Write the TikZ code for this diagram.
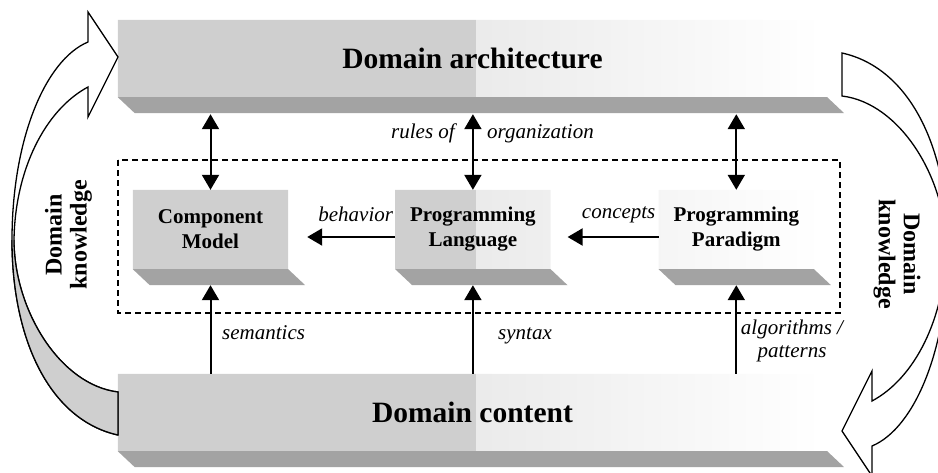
\documentclass[tikz,border=0pt]{standalone}
\usepackage{fontspec}
\setmainfont{Liberation Serif}
\usetikzlibrary{arrows.meta,positioning,backgrounds}

\definecolor{facegray}{gray}{0.81}
\definecolor{slabgray}{gray}{0.64}
\definecolor{fadegray}{gray}{0.92}

\tikzset{
  layerbox/.style={inner sep=0pt, minimum width=709pt, minimum height=77pt,
    font=\bfseries\fontsize{29.5}{32}\selectfont},
  partbox/.style={inner sep=0pt, minimum width=155pt, minimum height=79pt,
    align=center, font=\bfseries\fontsize{21}{25}\selectfont},
  lbl/.style={inner sep=0pt, align=center, font=\itshape\fontsize{21}{23}\selectfont},
  sidelbl/.style={inner sep=0pt, align=center, font=\bfseries\fontsize{24}{25}\selectfont},
  arr/.style={line width=2pt, -{Triangle[length=15pt,width=17pt]}},
  darr/.style={line width=2pt, {Triangle[length=15pt,width=17pt]}-{Triangle[length=15pt,width=17pt]}},
  frame/.style={line width=1.2pt, dash pattern=on 6pt off 4pt},
  bigarrow/.style={line width=1.3pt, line join=miter}
}

% darker front strip under a box
\newcommand\boxslab[1]{\fill[slabgray] (#1.south west) -- (#1.south east)
  -- ([shift={(17,16)}]#1.south east) -- ([shift={(17,16)}]#1.south west) -- cycle;}

\begin{document}
\begin{tikzpicture}[x=1pt,y=-1pt]
  \useasboundingbox (0,0) rectangle (938,472);
  \clip (0,0) rectangle (938,472);

  % layers and parts
  \node[layerbox] (arch) at (472.5,58.5) {Domain architecture};
  \node[layerbox] (content) at (472.5,412.5) {Domain content};
  \node[partbox] (cm) at (210.5,229.5) {Component\\Model};
  \node[partbox, right=107pt of cm] (pl) {Programming\\Language};
  \node[partbox, right=108pt of pl] (pp) {Programming\\Paradigm};

  \begin{scope}[on background layer]
    \clip (arch.north west) rectangle (arch.south east)
          (content.north west) rectangle (content.south east)
          (cm.north west) rectangle (cm.south east)
          (pl.north west) rectangle (pl.south east)
          (pp.north west) rectangle (pp.south east);
    \fill[facegray] (0,0) rectangle (476,472);
    \shade[left color=fadegray, right color=white] (476,0) rectangle (822,472);
  \end{scope}
  \boxslab{arch}
  \boxslab{content}
  \boxslab{cm}
  \boxslab{pl}
  \boxslab{pp}

  \draw[frame] (118,160) rectangle (840,313);

  % links to the architecture
  \coordinate (archbase) at ([yshift=-17pt]arch.south);
  \draw[darr] (archbase -| cm.north) -- (cm.north);
  \draw[darr] (archbase -| pl.north) -- (pl.north);
  \draw[darr] (archbase -| pp.north) -- (pp.north);
  \node[lbl, anchor=base east] at (455,138) {rules of};
  \node[lbl, anchor=base west] at (487,138) {organization};

  % links between parts
  \draw[arr] ([yshift=-7.5pt]pl.west) -- ([shift={(19,7.5)}]cm.east);
  \draw[arr] ([yshift=-7.5pt]pp.west) -- ([shift={(17,7.5)}]pl.east);
  \node[lbl, anchor=base east] at ([shift={(-2,-8.5)}]pl.west) {behavior};
  \node[lbl, anchor=base east] at ([shift={(-3,-11.5)}]pp.west) {concepts};

  % links from the content
  \draw[arr] (content.north -| cm.south) -- ([yshift=-16pt]cm.south);
  \draw[arr] (content.north -| pl.south) -- ([yshift=-16pt]pl.south);
  \draw[arr] (content.north -| pp.south) -- ([yshift=-16pt]pp.south);
  \node[lbl, anchor=base west] at (222,339) {semantics};
  \node[lbl, anchor=base west] at (498,339) {syntax};
  \node[lbl] at (792,341) {algorithms /\\patterns};

  % domain knowledge loops
  \draw[bigarrow, fill=white] (118,435) .. controls (50,420) and (12,340) .. (12,240)
    .. controls (12,140) and (45,60) .. (88,42) -- (88,12) -- (118,57) -- (88,117) -- (88,87)
    .. controls (45,110) and (15,170) .. (14,240) .. controls (14,310) and (60,385) .. (118,392) -- cycle;
  \fill[facegray] (12,240) .. controls (12,340) and (50,420) .. (118,435) -- (118,392)
    .. controls (60,385) and (14,310) .. (14,240) -- cycle;
  \draw[bigarrow] (118,435) .. controls (50,420) and (12,340) .. (12,240)
    (14,240) .. controls (14,310) and (60,385) .. (118,392) -- (118,435);
  \draw[bigarrow, fill=white, rotate around={180:(480,244)}] (118,435) .. controls (50,420) and (12,340) .. (12,240)
    .. controls (12,140) and (45,60) .. (88,42) -- (88,12) -- (118,57) -- (88,117) -- (88,87)
    .. controls (45,110) and (15,170) .. (14,240) .. controls (14,310) and (60,385) .. (118,392) -- cycle;
  \node[sidelbl, rotate=90] (knowl) at (68.5,235) {Domain\\knowledge};
  \node[sidelbl, rotate=-90] (knowr) at (897,254) {Domain\\knowledge};
\end{tikzpicture}
\end{document}
